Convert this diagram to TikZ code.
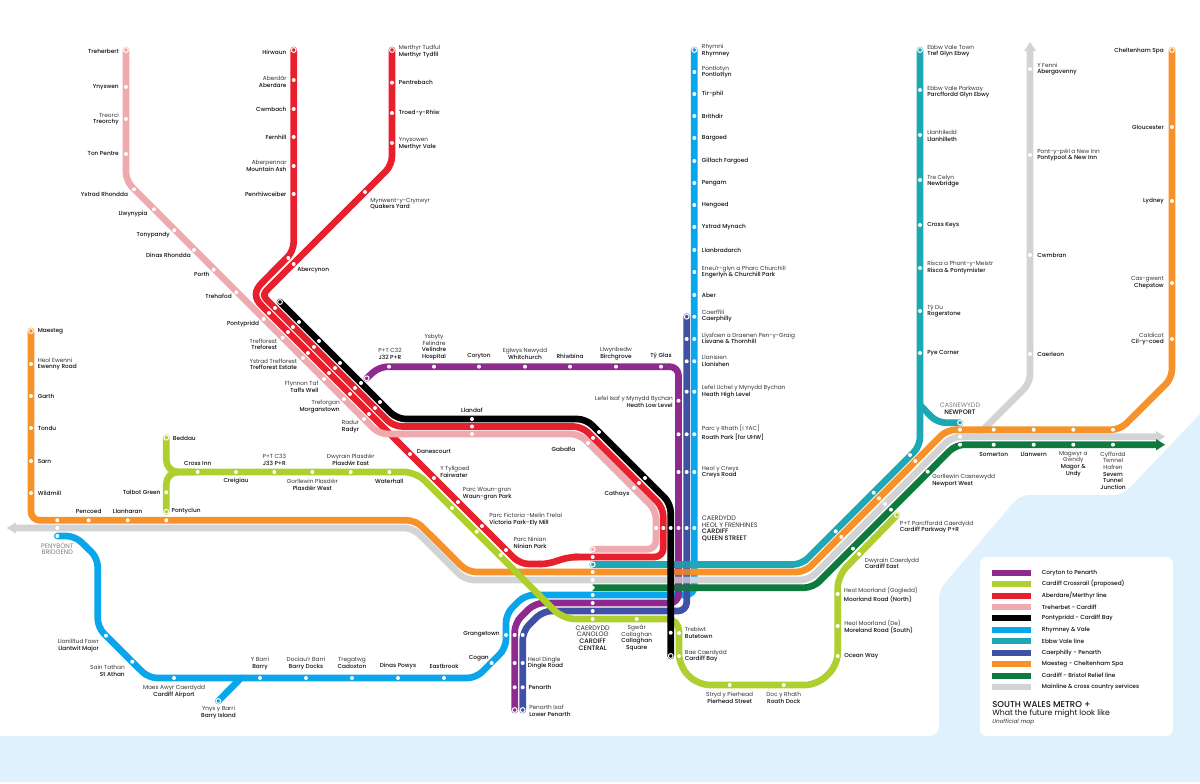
\documentclass[tikz,border=0pt]{standalone}
\usepackage{fontspec}
\setmainfont{Poppins}[BoldFont={Poppins Medium}]
\definecolor{cSea}{HTML}{DFF1FC}
\definecolor{cPurple}{HTML}{8E2A8E}
\definecolor{cLime}{HTML}{AFCF2E}
\definecolor{cRed}{HTML}{E8202E}
\definecolor{cPink}{HTML}{F0A9AE}
\definecolor{cBlack}{HTML}{000000}
\definecolor{cBlue}{HTML}{0AA6EC}
\definecolor{cTeal}{HTML}{1CA8B5}
\definecolor{cNavy}{HTML}{3F51A4}
\definecolor{cOrange}{HTML}{F7922A}
\definecolor{cGreen}{HTML}{0F7A3E}
\definecolor{cGrey}{HTML}{D2D3D5}
\definecolor{cWelsh}{HTML}{333333}
\definecolor{cEng}{HTML}{111111}
\newcommand\WL[1]{{\color{cWelsh}#1}}
\newcommand\EN[1]{{\color{cEng}\bfseries #1}}
\newcounter{lbno}
\newcommand\lab[3]{\stepcounter{lbno}\node[stationlab,#1] (lab\thelbno) at (#2) {#3};}
\newcommand\stops[2]{\foreach \xx/\yy [count=\ii] in {#2} {\node[stopdot] (#1\ii) at (\xx,\yy) {};}}
\newcommand\leg[3]{\stepcounter{lbno}\node[swatch,fill=#1] (sw\thelbno) at (1011.5,#2) {};\node[legendlab] (lg\thelbno) at (1041.7,#2) {#3};}
\tikzset{
  route/.style={line width=5pt,line cap=round,line join=round,rounded corners=6.5pt},
  stationlab/.style={inner sep=0pt,font=\fontsize{4.35}{4.95}\selectfont},
  caps/.style={font=\fontsize{4.85}{4.95}\selectfont},
  lr/.style={anchor=east,align=right},
  ll/.style={anchor=west,align=left},
  lc/.style={anchor=center,align=center},
  stopdot/.style={circle,fill=white,inner sep=0pt,minimum size=3pt},
  terminus/.style={circle,draw=white,line width=.75pt,inner sep=0pt,minimum size=3.6pt},
  swatch/.style={minimum width=29.25pt,minimum height=4.6pt,inner sep=0pt},
  legendlab/.style={inner sep=0pt,anchor=west,font=\fontsize{4.35}{4.95}\selectfont\bfseries,text=cEng}
}
\begin{document}
\begin{tikzpicture}[x=.75pt,y=-.75pt]
\useasboundingbox (0,0) rectangle (1200,784);
\fill[white] (0,0) rectangle (1200,784);
% sea
\fill[cSea] (0,736) [rounded corners=7pt] -- (939,736) -- (939,590) -- (1020,495) -- (1123,495) [sharp corners] -- (1200,414) -- (1200,782) -- (0,782) -- cycle;
\fill[white,rounded corners=5pt] (980,557) rectangle (1173,736);
% termini
\coordinate (treherbert) at (126,50);
\coordinate (hirwaun) at (293.7,50);
\coordinate (merthyr) at (392,50);
\coordinate (coryton) at (366.7,378.3);
\coordinate (rhymney) at (694.3,50);
\coordinate (caerphilly) at (686.7,316.7);
\coordinate (ebbw) at (920,50);
\coordinate (newport) at (960,422.7);
\coordinate (maesteg) at (31,331);
\coordinate (chelt) at (1172,50);
\coordinate (bridgend) at (57.3,536);
\coordinate (barryisl) at (218.3,701);
\coordinate (penarthP) at (514.7,710);
\coordinate (penarthN) at (522.7,710);
\coordinate (pinkend) at (592.7,549.3);
\coordinate (tealend) at (592.7,564.5);
\coordinate (greenend) at (592.7,587.7);
\coordinate (beddau) at (166.3,437.7);
\coordinate (pontyclun) at (166.3,511.7);
\coordinate (parkway) at (897,515);
\coordinate (blackN) at (280,302);
\coordinate (blackS) at (670.7,656);
% lines
\draw[route,cBlue] (rhymney) -- (694.3,595) -- (525,595) -- (506,614) -- (506,648) -- (476,678) -- (148.5,678) -- (97.7,627.4) -- (97.7,558) -- (75,536) -- (bridgend);
\draw[route,cBlue] (barryisl) -- (241,678);
\draw[route,cPurple] (coryton) -- (379,366.7) -- (678.5,366.7) -- (678.5,603) -- (535,603) -- (514.7,623) -- (penarthP);
\draw[route,cNavy] (caerphilly) -- (686.7,611) -- (543,611) -- (522.7,631) -- (penarthN);
\draw[route,cGrey,line cap=butt] (14,528) -- (413,528) -- (465,580) -- (809,580) -- (952,436.7) -- (1158,436.7);
\draw[route,cGrey,line cap=butt] (976,436.7) -- (1030,383) -- (1030,50);
\fill[cGrey] (16,522.5) -- (6.7,528) -- (16,533.5) -- cycle;
\fill[cGrey] (1156,431) -- (1165,436.7) -- (1156,442.4) -- cycle;
\fill[cGrey] (1024,51) -- (1030,42) -- (1036,51) -- cycle;
\draw[route,cTeal] (ebbw) -- (920,446) -- (801.5,564.5) -- (tealend);
\draw[route,cTeal] (920,405) -- (937,422.7) -- (newport);
\draw[route,cOrange] (maesteg) -- (31,520.3) -- (415.5,520.3) -- (467.5,572) -- (805,572) -- (947,429.7) -- (1120,429.7) -- (1172,378) -- (chelt);
\draw[route,cGreen,line cap=butt] (greenend) -- (813,587.7) -- (955.8,444.7) -- (1158,444.7);
\fill[cGreen] (1156,439) -- (1165,444.7) -- (1156,450.4) -- cycle;
\draw[cPurple,line width=5pt,opacity=.22] (678.5,561) -- (678.5,591);
\draw[cNavy,line width=5pt,opacity=.22] (686.7,561) -- (686.7,591);
\draw[route,cRed] (hirwaun) -- (293.7,251) -- (268,276.7) .. controls (254,291) and (254,298) .. (268,312) -- (520,564) -- (540,564);
\draw[route,cRed] (540,564) .. controls (556,564) and (560,557) .. (578,557);
\draw[route,cPink] (pinkend) -- (656,549.3) -- (656,510.5) -- (579.5,434) -- (379,434) -- (126,181) -- (treherbert);
\draw[route,cRed] (merthyr) -- (392,165) -- (276,281) .. controls (262,295) and (262,295) .. (276,309) -- (393.5,426.5) -- (582,426.5) -- (663.3,507.8) -- (663.3,557) -- (574,557);
\draw[route,cLime,rounded corners=9pt] (beddau) -- (166.3,472) -- (416,472) -- (563,619) -- (679,619) -- (679,666) -- (698,685) -- (817,685) -- (837.7,665) -- (837.7,576) -- (parkway);
\draw[route,cLime,rounded corners=9pt] (pontyclun) -- (166.3,472) -- (195,472);
\draw[route,cBlack] (blackN) -- (397,419) -- (586,419) -- (670.7,503.7) -- (blackS);
% terminus rings
\foreach \n/\c in {treherbert/cPink,hirwaun/cRed,merthyr/cRed,coryton/cPurple,rhymney/cBlue,caerphilly/cNavy,ebbw/cTeal,newport/cTeal,maesteg/cOrange,chelt/cOrange,barryisl/cBlue,penarthP/cPurple,penarthN/cNavy,pinkend/cPink,tealend/cTeal,beddau/cLime,pontyclun/cLime,parkway/cLime,blackN/cBlack,blackS/cBlack}
  {\node[terminus,fill=\c] (ring\n) at (\n) {};}
% stop dots
\stops{pk}{126/87,126/119,126/154,134/189.3,154/209.3,174.3/230.3,194/250,213.7/269.7,236.3/292.3,263.7/319,282.7/337.7,303/358,324/379,344/399,364/419,472/434,588/443,634/488,656/528}
\stops{rda}{293.7/80,293.7/109,293.7/137,293.7/166,293.7/194,288.3/258,269/313,288/332,308/353,329/373,350/394,369/414,410/454,434/478,458/502,482/526,506/550,592.7/557}
\stops{rdb}{392/82.7,392/113,392/143,365/192,293.7/264,275/308,293/327,314/347,335/368,355/388,375/408,472/426.5,593/438,639/483,663.3/528}
\stops{blk}{299/322,319/341,340/363,361/383,380/402,472/419,599/432,645/478,670.7/528,670.7/632.7}
\stops{pur}{389/366.7,434/366.7,479/366.7,525/366.7,570/366.7,616/366.7,661/366.7,678.5/400.7,678.5/434.3,678.5/472,678.5/528,592.7/603,514.7/635,514.7/663,514.7/687.3}
\stops{nvy}{686.7/339,686.7/361.3,686.7/391.7,686.7/434.3,686.7/472,686.7/528,592.7/611,522.7/635,522.7/663,522.7/687.3}
\stops{blu}{694.3/72,694.3/94,694.3/116,694.3/138,694.3/161,694.3/183,694.3/205,694.3/227,694.3/250,694.3/272,694.3/295,694.3/316.7,694.3/339,694.3/361.3,694.3/391.7,694.3/434.3,694.3/472,694.3/528,592.7/595,506/635,491.7/663,444/678,398/678,352/678,306/678,260/678,174/678,132.3/661.7,106/635.7,57.3/536}
\stops{tea}{920/90,920/135,920/180,920/225,920/268,920/311,920/353,910/455,873.7/492.7,835.7/531.3}
\stops{org}{31/364,31/396,31/428,31/461,31/493,57.3/520.3,88.7/520.3,127.7/520.3,166.3/520.3,592.7/572,841.3/537,879/498.3,915.3/461,960/429.7,993.7/429.7,1033.7/429.7,1073.3/429.7,1113/429.7,1172/127,1172/201,1172/283,1172/339}
\stops{gry}{57.3/528,592.7/580,885/504,960/436.7,1030/69,1030/155,1030/255,1030/354}
\stops{grn}{592.7/587.7,853/548.7,891/509.7,927.7/471.7,960/444.7,993.7/444.7,1033.7/444.7,1073.3/444.7,1113/444.7}
\stops{lim}{166.3/492.3,197.7/472,236/472,274.3/472,312.3/472,350.7/472,389.3/472,452/508,476.7/531.7,500.7/555,592.7/619,636.7/619,679/633,679/656,729.7/685,783.7/685,837.7/656,837.7/626,837.7/594,859/554}
% labels: Treherbert line
\lab{lr}{119,51}{\EN{Treherbert}}
\lab{lr}{119,87}{\EN{Ynyswen}}
\lab{lr}{119,119}{\WL{Treorci}\\\EN{Treorchy}}
\lab{lr}{119,154}{\EN{Ton Pentre}}
\lab{lr}{128.3,194}{\EN{Ystrad Rhondda}}
\lab{lr}{147.7,213.7}{\EN{Llwynypia}}
\lab{lr}{170,235}{\EN{Tonypandy}}
\lab{lr}{191,255}{\EN{Dinas Rhondda}}
\lab{lr}{209.7,274}{\EN{Porth}}
\lab{lr}{232,296.7}{\EN{Trehafod}}
\lab{lr}{259.3,324}{\EN{Pontypridd}}
\lab{lr}{277.3,344.3}{\WL{Trefforest}\\\EN{Treforest}}
\lab{lr}{297.3,364.3}{\WL{Ystrad Trefforest}\\\EN{Trefforest Estate}}
\lab{lr}{318.7,387}{\WL{Ffynnon Taf}\\\EN{Taffs Well}}
\lab{lr}{340,406.7}{\WL{Treforgan}\\\EN{Morganstown}}
\lab{lr}{359.3,426.7}{\WL{Radur}\\\EN{Radyr}}
% Red
\lab{lr}{286.7,52}{\EN{Hirwaun}}
\lab{lr}{286.7,82}{\WL{Aberdâr}\\\EN{Aberdare}}
\lab{lr}{286.7,109}{\EN{Cwmbach}}
\lab{lr}{286.7,137}{\EN{Fernhill}}
\lab{lr}{286.7,166}{\WL{Aberpennar}\\\EN{Mountain Ash}}
\lab{lr}{286.7,194}{\EN{Penrhiwceiber}}
\lab{ll}{398.7,51.7}{\WL{Merthyr Tudful}\\\EN{Merthyr Tydfil}}
\lab{ll}{398.7,82.7}{\EN{Pentrebach}}
\lab{ll}{398.7,113}{\EN{Troed-y-Rhiw}}
\lab{ll}{398.7,144}{\WL{Ynysowen}\\\EN{Merthyr Vale}}
\lab{ll}{370,204}{\WL{Mynwent-y-Crynwyr}\\\EN{Quakers Yard}}
\lab{ll}{297,270}{\EN{Abercynon}}
\lab{ll}{416.7,451.7}{\EN{Danescourt}}
\lab{ll}{440,472}{\WL{Y Tyllgoed}\\\EN{Fairwater}}
\lab{ll}{462.7,493.7}{\WL{Parc Waun-gron}\\\EN{Waun-gron Park}}
\lab{ll}{489,519.3}{\WL{Parc Fictoria -Melin Trelai}\\\EN{Victoria Park-Ely Mill}}
\lab{ll}{513.3,543}{\WL{Parc Ninian}\\\EN{Ninian Park}}
\lab{lc}{472,410.7}{\EN{Llandaf}}
\lab{lc}{563.5,449}{\EN{Gabalfa}}
\lab{lc}{617,493.7}{\EN{Cathays}}
% Purple
\lab{lc}{390,353.7}{\WL{P+T C32}\\\EN{J32 P+R}}
\lab{lc}{434,347}{\WL{Ysbyty}\\\WL{Felindre}\\\EN{Velindre}\\\EN{Hospital}}
\lab{lc}{479,356}{\EN{Coryton}}
\lab{lc}{525,353.7}{\WL{Eglwys Newydd}\\\EN{Whitchurch}}
\lab{lc}{570,356}{\EN{Rhiwbina}}
\lab{lc}{616,353.7}{\WL{Llwynbedw}\\\EN{Birchgrove}}
\lab{lc}{661,356.3}{\EN{Tŷ Glas}}
\lab{lr}{673,402}{\WL{Lefel Isaf y Mynydd Bychan}\\\EN{Heath Low Level}}
% Rhymney column
\lab{ll}{701.7,50.5}{\WL{Rhymni}\\\EN{Rhymney}}
\lab{ll}{701.7,72}{\WL{Pontlotyn}\\\EN{Pontlottyn}}
\lab{ll}{701.7,94}{\EN{Tir-phil}}
\lab{ll}{701.7,116}{\EN{Brithdir}}
\lab{ll}{701.7,138}{\EN{Bargoed}}
\lab{ll}{701.7,161}{\EN{Gilfach Fargoed}}
\lab{ll}{701.7,183}{\EN{Pengam}}
\lab{ll}{701.7,205}{\EN{Hengoed}}
\lab{ll}{701.7,227}{\EN{Ystrad Mynach}}
\lab{ll}{701.7,250}{\EN{Llanbradarch}}
\lab{ll}{701.7,272}{\WL{Eneu’r-glyn a Pharc Churchill}\\\EN{Engerlyn \& Churchill Park}}
\lab{ll}{701.7,295}{\EN{Aber}}
\lab{ll}{701.7,316}{\WL{Caerffili}\\\EN{Caerphilly}}
\lab{ll}{701.7,338.5}{\WL{Llysfaen a Draenen Pen-y-Graig}\\\EN{Lisvane \& Thornhill}}
\lab{ll}{701.7,361}{\WL{Llanisien}\\\EN{Llanishen}}
\lab{ll}{701.7,391.3}{\WL{Lefel Uchel y Mynydd Bychan}\\\EN{Heath High Level}}
\lab{ll}{701.7,432.8}{\WL{Parc y Rhath [i YAC]}\\\EN{Roath Park [for UHW]}}
\lab{ll}{701.7,472.3}{\WL{Heol y Crwys}\\\EN{Crwys Road}}
\lab{ll,caps}{701.7,528.7}{\WL{CAERDYDD}\\\WL{HEOL Y FRENHINES}\\\EN{CARDIFF}\\\EN{QUEEN STREET}}
% Lime
\lab{ll}{172.7,438}{\EN{Beddau}}
\lab{lc}{197.7,463.3}{\EN{Cross Inn}}
\lab{lc}{236,481.3}{\EN{Creigiau}}
\lab{lc}{274.3,459.8}{\WL{P+T C33}\\\EN{J33 P+R}}
\lab{lc}{312.3,484.7}{\WL{Gorllewin Plasdŵr}\\\EN{Plasdŵr West}}
\lab{lc}{350.7,459.8}{\WL{Dwyrain Plasdŵr}\\\EN{Plasdŵr East}}
\lab{lc}{389.3,481.3}{\EN{Waterhall}}
\lab{lr}{160.7,492}{\EN{Talbot Green}}
\lab{ll}{171.3,511.3}{\EN{Pontyclun}}
% Maesteg
\lab{ll}{37.5,331}{\EN{Maesteg}}
\lab{ll}{37.5,364}{\WL{Heol Ewenni}\\\EN{Ewenny Road}}
\lab{ll}{37.5,396}{\EN{Garth}}
\lab{ll}{37.5,428}{\EN{Tondu}}
\lab{ll}{37.5,461}{\EN{Sarn}}
\lab{ll}{37.5,493}{\EN{Wildmill}}
\lab{lc}{88.7,511}{\EN{Pencoed}}
\lab{lc}{127.7,511}{\EN{Llanharan}}
% Vale
\lab{lc,caps}{57.3,549.3}{\color{gray}PENYBONT\\\color{gray}BRIDGEND}
\lab{lr}{99,645.3}{\WL{Llanilltud Fawr}\\\EN{Llantwit Major}}
\lab{lr}{125,671}{\WL{Sain Tathan}\\\EN{St Athan}}
\lab{lc}{174,691.5}{\WL{Maes Awyr Caerdydd}\\\EN{Cardiff Airport}}
\lab{lc}{218.5,712.3}{\WL{Ynys y Barri}\\\EN{Barry Island}}
\lab{lc}{260,663.3}{\WL{Y Barri}\\\EN{Barry}}
\lab{lc}{306,663.3}{\WL{Dociau’r Barri}\\\EN{Barry Docks}}
\lab{lc}{352,663.3}{\WL{Tregatwg}\\\EN{Cadoxton}}
\lab{lc}{398,666.5}{\EN{Dinas Powys}}
\lab{lc}{444,666.5}{\EN{Eastbrook}}
\lab{lr}{489,658.3}{\EN{Cogan}}
\lab{lr}{500,634.7}{\EN{Grangetown}}
\lab{ll}{527.7,663.2}{\WL{Heol Dingle}\\\EN{Dingle Road}}
\lab{ll}{528.3,687.3}{\EN{Penarth}}
\lab{ll}{529,711}{\WL{Penarth Isaf}\\\EN{Lower Penarth}}
% Central
\lab{lc,caps}{592.7,638}{\WL{CAERDYDD}\\\WL{CANOLOG}\\\EN{CARDIFF}\\\EN{CENTRAL}}
\lab{lc}{636.7,638}{\WL{Sgwâr}\\\WL{Callaghan}\\\EN{Callaghan}\\\EN{Square}}
\lab{ll}{684.7,632.8}{\WL{Trebiwt}\\\EN{Butetown}}
\lab{ll}{684.7,656.3}{\WL{Bae Caerdydd}\\\EN{Cardiff Bay}}
\lab{lc}{729.7,697.7}{\WL{Stryd y Pierhead}\\\EN{Pierhead Street}}
\lab{lc}{783.7,697.7}{\WL{Doc y Rhath}\\\EN{Roath Dock}}
\lab{ll}{844,656.3}{\EN{Ocean Way}}
\lab{ll}{844,626.7}{\WL{Heol Moorland (De)}\\\EN{Moreland Road (South)}}
\lab{ll}{843.7,594.7}{\WL{Heol Moorland (Gogledd)}\\\EN{Moorland Road (North)}}
\lab{ll}{864.7,563.3}{\WL{Dwyrain Caerdydd}\\\EN{Cardiff East}}
\lab{ll}{899.7,527}{\WL{P+T Parcffordd Caerdydd}\\\EN{Cardiff Parkway P+R}}
\lab{ll}{932,480.7}{\WL{Gorllewin Casnewydd}\\\EN{Newport West}}
% East
\lab{lc,caps}{960,409}{{\color{gray}CASNEWYDD}\\\EN{NEWPORT}}
\lab{lc}{993.7,454.3}{\EN{Somerton}}
\lab{lc}{1033.7,454.3}{\EN{Llanwern}}
\lab{lc}{1073.3,464}{\WL{Magwyr a}\\\WL{Gwndy}\\\EN{Magor \&}\\\EN{Undy}}
\lab{lc}{1113,470.7}{\WL{Cyffordd}\\\WL{Twnnel}\\\WL{Hafren}\\\EN{Severn}\\\EN{Tunnel}\\\EN{Junction}}
% Ebbw
\lab{ll}{927,51}{\WL{Ebbw Vale Town}\\\EN{Tref Glyn Ebwy}}
\lab{ll}{927,92}{\WL{Ebbw Vale Parkway}\\\EN{Parcffordd Glyn Ebwy}}
\lab{ll}{927,136}{\WL{Llanhiledd}\\\EN{Llanhilleth}}
\lab{ll}{927,181}{\WL{Tre Celyn}\\\EN{Newbridge}}
\lab{ll}{927,225}{\EN{Cross Keys}}
\lab{ll}{927,267.5}{\WL{Risca a Phont-y-Meistr}\\\EN{Risca \& Pontymister}}
\lab{ll}{927,311}{\WL{Tŷ Du}\\\EN{Rogerstone}}
\lab{ll}{927,353}{\EN{Pye Corner}}
% Grey north
\lab{ll}{1037,69}{\WL{Y Fenni}\\\EN{Abergavenny}}
\lab{ll}{1037,155}{\WL{Pont-y-pŵl a New Inn}\\\EN{Pontypool \& New Inn}}
\lab{ll}{1037,255}{\EN{Cwmbran}}
\lab{ll}{1037,354}{\EN{Caerleon}}
% Cheltenham
\lab{lr}{1164,51}{\EN{Cheltenham Spa}}
\lab{lr}{1164,127}{\EN{Gloucester}}
\lab{lr}{1164,201}{\EN{Lydney}}
\lab{lr}{1164,283}{\WL{Cas-gwent}\\\EN{Chepstow}}
\lab{lr}{1164,339}{\WL{Caldicot}\\\EN{Cil-y-coed}}
% Legend
\leg{cPurple}{572.7}{Coryton to Penarth}
\leg{cLime}{584}{Cardiff Crossrail (proposed)}
\leg{cRed}{595.7}{Aberdare/Merthyr line}
\leg{cPink}{607}{Treherbet - Cardiff}
\leg{cBlack}{618.3}{Pontypridd - Cardiff Bay}
\leg{cBlue}{630}{Rhymney \& Vale}
\leg{cTeal}{641.3}{Ebbw Vale line}
\leg{cNavy}{652.7}{Caerphilly - Penarth}
\leg{cOrange}{664.3}{Maesteg - Cheltenham Spa}
\leg{cGreen}{675.7}{Cardiff - Bristol Relief line}
\leg{cGrey}{687}{Mainline \& cross country services}
\node[inner sep=0pt,anchor=west,font=\fontsize{6.4}{6}\selectfont\bfseries,text=cEng] (title) at (992,705) {SOUTH WALES METRO +};
\node[inner sep=0pt,anchor=west,font=\fontsize{5.8}{6}\selectfont,text=cEng] (subtitle) at (992,713.7) {What the future might look like};
\node[inner sep=0pt,anchor=west,font=\fontsize{4.3}{5}\selectfont\itshape,text=cWelsh] (unofficial) at (992,722.3) {Unofficial map};
\end{tikzpicture}
\end{document}
